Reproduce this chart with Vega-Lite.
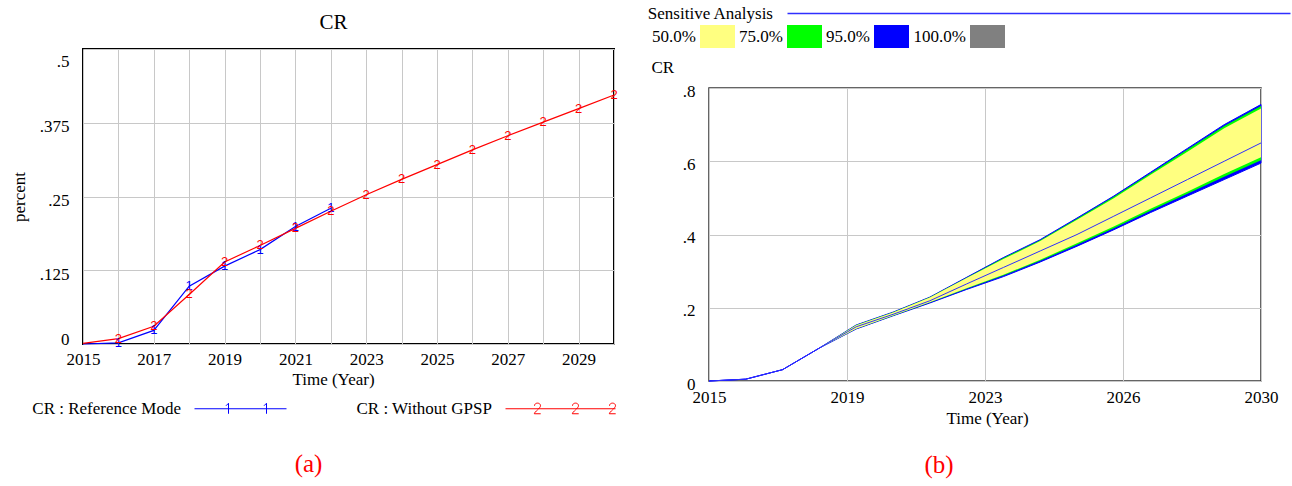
{
  "$schema": "https://vega.github.io/schema/vega-lite/v6.json",
  "background": "white",
  "padding": {"left": 9, "top": 5, "right": 0, "bottom": 0},
  "spacing": 31,
  "resolve": {
    "scale": {"stroke": "independent", "fill": "independent", "color": "independent"},
    "legend": {"stroke": "independent", "fill": "independent", "color": "independent"}
  },
  "config": {
    "font": "Liberation Serif",
    "axis": {"ticks": false, "domain": false, "gridColor": "#c8c8c8", "gridWidth": 1, "gridOpacity": 1, "labelFont": "Liberation Serif", "labelFontSize": 17, "labelColor": "#000", "titleFont": "Liberation Serif", "titleFontSize": 17, "titleFontWeight": "normal", "titleColor": "#000", "labelOverlap": false, "labelFlush": false},
    "legend": {"labelFont": "Liberation Serif", "labelFontSize": 17, "labelColor": "#000", "padding": 0, "titleFont": "Liberation Serif"},
    "title": {"font": "Liberation Serif", "fontWeight": "normal"}
  },
  "hconcat": [
    {
      "width": 531,
      "height": 295,
      "view": {"stroke": "#000", "strokeWidth": 2},
      "title": {"text": "(a)", "orient": "bottom", "color": "#ff0000", "fontSize": 25, "dx": -40, "offset": 35},
      "data": {"values": [
        {"year": 2015, "value": 0, "series": "CR : Reference Mode", "id": ""},
        {"year": 2016, "value": 0.002, "series": "CR : Reference Mode", "id": "1"},
        {"year": 2017, "value": 0.023, "series": "CR : Reference Mode", "id": "1"},
        {"year": 2018, "value": 0.098, "series": "CR : Reference Mode", "id": "1"},
        {"year": 2019, "value": 0.132, "series": "CR : Reference Mode", "id": "1"},
        {"year": 2020, "value": 0.160, "series": "CR : Reference Mode", "id": "1"},
        {"year": 2021, "value": 0.199, "series": "CR : Reference Mode", "id": "1"},
        {"year": 2022, "value": 0.230, "series": "CR : Reference Mode", "id": "1"},
        {"year": 2015, "value": 0.001, "series": "CR : Without GPSP", "id": ""},
        {"year": 2016, "value": 0.009, "series": "CR : Without GPSP", "id": "2"},
        {"year": 2017, "value": 0.030, "series": "CR : Without GPSP", "id": "2"},
        {"year": 2018, "value": 0.084, "series": "CR : Without GPSP", "id": "2"},
        {"year": 2019, "value": 0.139, "series": "CR : Without GPSP", "id": "2"},
        {"year": 2020, "value": 0.167, "series": "CR : Without GPSP", "id": "2"},
        {"year": 2021, "value": 0.196, "series": "CR : Without GPSP", "id": "2"},
        {"year": 2022, "value": 0.225, "series": "CR : Without GPSP", "id": "2"},
        {"year": 2023, "value": 0.253, "series": "CR : Without GPSP", "id": "2"},
        {"year": 2024, "value": 0.279, "series": "CR : Without GPSP", "id": "2"},
        {"year": 2025, "value": 0.304, "series": "CR : Without GPSP", "id": "2"},
        {"year": 2026, "value": 0.329, "series": "CR : Without GPSP", "id": "2"},
        {"year": 2027, "value": 0.353, "series": "CR : Without GPSP", "id": "2"},
        {"year": 2028, "value": 0.376, "series": "CR : Without GPSP", "id": "2"},
        {"year": 2029, "value": 0.399, "series": "CR : Without GPSP", "id": "2"},
        {"year": 2030, "value": 0.422, "series": "CR : Without GPSP", "id": "2"}
      ]},
      "resolve": {"axis": {"x": "independent"}},
      "layer": [
        {
          "mark": {"type": "line", "strokeWidth": 1.2},
          "encoding": {
            "x": {"field": "year", "type": "quantitative",
              "scale": {"domain": [2015, 2030], "nice": false, "zero": false},
              "axis": {"orient": "bottom", "values": [2015, 2016, 2017, 2018, 2019, 2020, 2021, 2022, 2023, 2024, 2025, 2026, 2027, 2028, 2029, 2030],
                "labelExpr": "datum.value % 2 == 1 ? format(datum.value, 'd') : ''", "labelPadding": 7,
                "title": "Time (Year)", "titleX": 250, "titleY": 35, "titleBaseline": "middle", "titleAlign": "center", "grid": true}},
            "y": {"field": "value", "type": "quantitative",
              "scale": {"domain": [0, 0.5], "nice": false, "zero": false},
              "axis": {"values": [0, 0.125, 0.25, 0.375, 0.5],
                "labelExpr": "datum.value == 0 ? '0' : substring(format(datum.value, '~g'), 1)",
                "labelPadding": 14, "labelFlush": true, "labelOffset": 4,
                "title": "percent", "titlePadding": 11, "grid": true}},
            "stroke": {"field": "series", "type": "nominal",
              "scale": {"domain": ["CR : Reference Mode", "CR : Without GPSP"], "range": ["#0000ff", "#ff0000"]},
              "legend": {"orient": "none", "legendX": 103, "legendY": 351, "direction": "horizontal", "title": null,
                "symbolType": "M0,0H92", "symbolSize": 4, "symbolStrokeWidth": 1, "symbolFillColor": "transparent",
                "labelAlign": "right", "labelOffset": -22, "columnPadding": 67,
                "encode": {"symbols": {"update": {
                  "shape": {"signal": "datum.value == 'CR : Reference Mode' ? 'M0,0H92M31.5,-3L34,-5.5V5M69.5,-3L72,-5.5V5' : 'M0,0H110M29,-3C29,-6.5 35,-6.5 35,-3C35,-0.5 29,3 28.8,5H35.2M67,-3C67,-6.5 73,-6.5 73,-3C73,-0.5 67,3 66.8,5H73.2M104,-3C104,-6.5 110,-6.5 110,-3C110,-0.5 104,3 103.8,5H110.2'"},
                  "fill": {"value": "transparent"}, "fillOpacity": {"value": 0}}}}}}
          }
        },
        {
          "mark": {"type": "text", "font": "Liberation Sans", "fontSize": 13, "baseline": "middle", "align": "center"},
          "encoding": {
            "x": {"field": "year", "type": "quantitative",
              "axis": {"orient": "top", "labels": false, "ticks": false, "domain": false, "grid": false,
                "title": "CR", "titleFontSize": 21, "titleX": 250, "titleY": -27, "titleBaseline": "middle", "titleAlign": "center"}},
            "y": {"field": "value", "type": "quantitative"},
            "text": {"field": "id"},
            "color": {"field": "series", "type": "nominal", "scale": {"domain": ["CR : Reference Mode", "CR : Without GPSP"], "range": ["#0000ff", "#ff0000"]}, "legend": null}
          }
        }
      ]
    },
    {
      "spacing": 4,
      "vconcat": [
        {
          "width": 552,
          "height": 4,
          "view": {"stroke": null, "fill": "#ffffff"},
          "data": {"values": [{}]},
          "mark": {"type": "rule", "opacity": 0},
          "encoding": {}
        },
        {
          "width": 552,
          "height": 293,
          "view": {"stroke": "#333333", "strokeWidth": 1.5},
          "title": {"text": "(b)", "orient": "bottom", "color": "#ff0000", "fontSize": 25, "dx": -46, "offset": 27},
          "data": {"values": [
            {"year": 2015, "lo": 0, "lo12": 0, "lo25": 0, "hi75": 0, "hi87": 0, "hi": 0, "mean": 0},
            {"year": 2016, "lo": 0.005, "lo12": 0.005, "lo25": 0.005, "hi75": 0.005, "hi87": 0.005, "hi": 0.005, "mean": 0.005},
            {"year": 2017, "lo": 0.031, "lo12": 0.031, "lo25": 0.031, "hi75": 0.031, "hi87": 0.031, "hi": 0.031, "mean": 0.031},
            {"year": 2018, "lo": 0.09, "lo12": 0.09, "lo25": 0.09, "hi75": 0.09, "hi87": 0.09, "hi": 0.09, "mean": 0.09},
            {"year": 2019, "lo": 0.142, "lo12": 0.143, "lo25": 0.143, "hi75": 0.152, "hi87": 0.153, "hi": 0.153, "mean": 0.148},
            {"year": 2020, "lo": 0.178, "lo12": 0.178, "lo25": 0.179, "hi75": 0.187, "hi87": 0.188, "hi": 0.188, "mean": 0.182},
            {"year": 2021, "lo": 0.213, "lo12": 0.214, "lo25": 0.215, "hi75": 0.228, "hi87": 0.229, "hi": 0.229, "mean": 0.219},
            {"year": 2022, "lo": 0.250, "lo12": 0.252, "lo25": 0.253, "hi75": 0.281, "hi87": 0.282, "hi": 0.283, "mean": 0.265},
            {"year": 2023, "lo": 0.285, "lo12": 0.288, "lo25": 0.290, "hi75": 0.333, "hi87": 0.336, "hi": 0.337, "mean": 0.310},
            {"year": 2024, "lo": 0.325, "lo12": 0.328, "lo25": 0.331, "hi75": 0.382, "hi87": 0.384, "hi": 0.386, "mean": 0.355},
            {"year": 2025, "lo": 0.368, "lo12": 0.372, "lo25": 0.376, "hi75": 0.440, "hi87": 0.443, "hi": 0.445, "mean": 0.400},
            {"year": 2026, "lo": 0.413, "lo12": 0.417, "lo25": 0.422, "hi75": 0.499, "hi87": 0.503, "hi": 0.505, "mean": 0.450},
            {"year": 2027, "lo": 0.460, "lo12": 0.465, "lo25": 0.470, "hi75": 0.563, "hi87": 0.567, "hi": 0.570, "mean": 0.500},
            {"year": 2028, "lo": 0.505, "lo12": 0.511, "lo25": 0.517, "hi75": 0.626, "hi87": 0.632, "hi": 0.635, "mean": 0.550},
            {"year": 2029, "lo": 0.550, "lo12": 0.558, "lo25": 0.565, "hi75": 0.690, "hi87": 0.696, "hi": 0.700, "mean": 0.600},
            {"year": 2030, "lo": 0.595, "lo12": 0.603, "lo25": 0.611, "hi75": 0.744, "hi87": 0.751, "hi": 0.755, "mean": 0.650}
          ]},
          "layer": [
            {
              "mark": {"type": "area", "opacity": 1, "stroke": "#0000ff", "strokeWidth": 1},
              "encoding": {
                "x": {"field": "year", "type": "quantitative",
                  "scale": {"domain": [2015, 2030], "nice": false, "zero": false},
                  "axis": {"values": [2015, 2018.75, 2022.5, 2026.25, 2030],
                    "labelExpr": "format(round(datum.value), 'd')", "labelPadding": 8,
                    "title": "Time (Year)", "titleX": 278, "titleY": 37, "titleBaseline": "middle", "titleAlign": "center", "grid": true}},
                "y": {"field": "lo", "type": "quantitative",
                  "scale": {"domain": [0, 0.8], "nice": false, "zero": false},
                  "axis": {"values": [0, 0.2, 0.4, 0.6, 0.8],
                    "labelExpr": "datum.value == 0 ? '0' : substring(format(datum.value, '~g'), 1)",
                    "labelPadding": 14, "labelOffset": 3,
                    "title": "CR", "titleAngle": 0, "titleAlign": "left", "titleBaseline": "middle", "titleX": -58, "titleY": -21, "grid": true}},
                "y2": {"field": "hi"},
                "fill": {"datum": "95.0%", "type": "nominal",
                  "scale": {"domain": ["50.0%", "75.0%", "95.0%", "100.0%"], "range": ["#ffff80", "#00ff00", "#0000ff", "#808080"]},
                  "legend": {"orient": "none", "legendX": -9, "legendY": -30, "direction": "horizontal", "title": null,
                    "symbolType": "M-1,-0.657H1V0.657H-1Z", "symbolSize": 1225, "symbolStrokeWidth": 0, "symbolOpacity": 1,
                    "labelAlign": "right", "labelOffset": -39, "columnPadding": 4}}
              }
            },
            {
              "mark": {"type": "area", "opacity": 1},
              "encoding": {
                "x": {"field": "year", "type": "quantitative"},
                "y": {"field": "lo12", "type": "quantitative"},
                "y2": {"field": "hi87"},
                "fill": {"datum": "75.0%", "type": "nominal"}
              }
            },
            {
              "mark": {"type": "area", "opacity": 1},
              "encoding": {
                "x": {"field": "year", "type": "quantitative"},
                "y": {"field": "lo25", "type": "quantitative"},
                "y2": {"field": "hi75"},
                "fill": {"datum": "50.0%", "type": "nominal"}
              }
            },
            {
              "mark": {"type": "line", "strokeWidth": 1},
              "encoding": {
                "x": {"field": "year", "type": "quantitative"},
                "y": {"field": "mean", "type": "quantitative"},
                "stroke": {"datum": "Sensitive Analysis", "type": "nominal",
                  "scale": {"range": ["#2f2fff"]},
                  "legend": {"orient": "none", "legendX": 70, "legendY": -44, "direction": "horizontal", "title": null,
                    "symbolType": "M0,0H503", "symbolSize": 4, "symbolStrokeWidth": 1.5,
                    "labelAlign": "right", "labelOffset": -23}}
              }
            }
          ]
        }
      ]
    }
  ]
}
